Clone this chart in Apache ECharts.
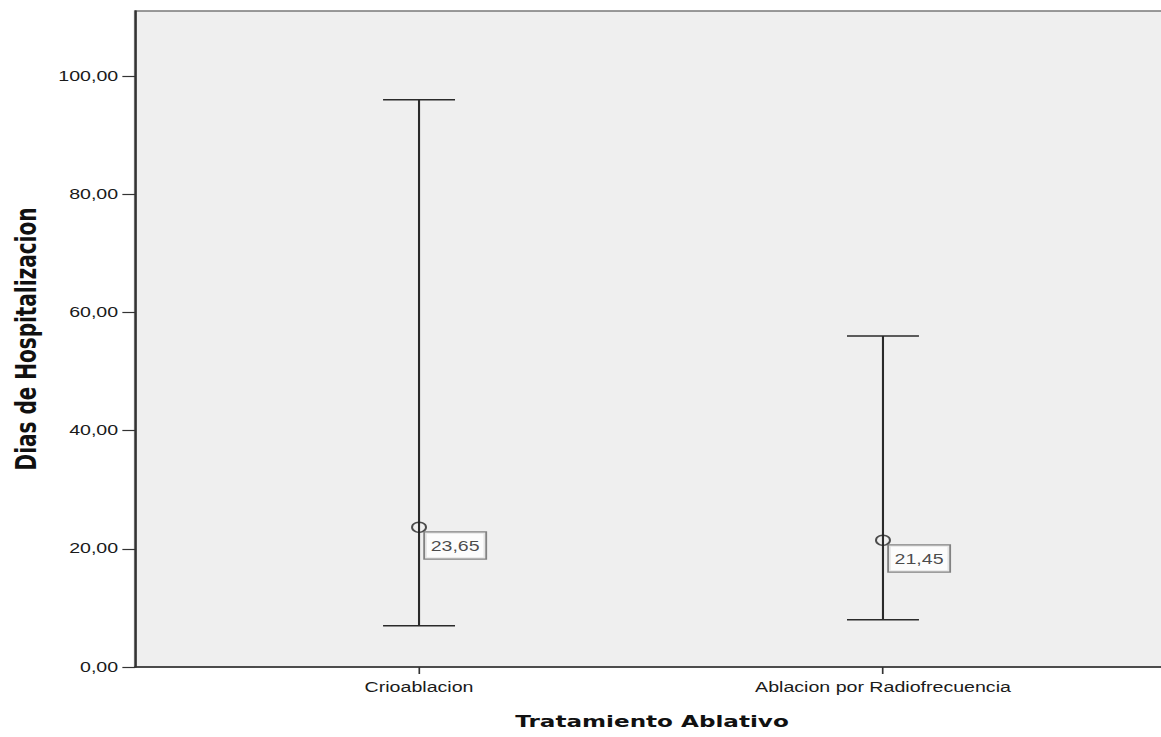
<!DOCTYPE html>
<html>
<head>
<meta charset="utf-8">
<script src="https://cdn.jsdelivr.net/npm/echarts@6/dist/echarts.min.js"></script>
<style>
  html, body { margin: 0; padding: 0; background: #ffffff; overflow: hidden; }
  #wrap { width: 1161px; height: 737px; overflow: hidden; position: relative; }
  #chart { width: 845px; height: 737px; transform: scaleX(1.4); transform-origin: 0 0; }
</style>
</head>
<body>
<div id="wrap"><div id="chart"></div></div>
<script>
// ---- data ----
const categories = ['Crioablacion', 'Ablacion por Radiofrecuencia'];
const catPositions = [1, 2];
const means = [23.65, 21.45];
const lowers = [7, 8];
const uppers = [96, 56];
const yTicks = [0, 20, 40, 60, 80, 100];
const xTitle = 'Tratamiento Ablativo';
const yTitle = 'Dias de Hospitalizacion';

const fmt = v => v.toFixed(2).replace('.', ',');

const barData = catPositions.map((x, i) => [x, lowers[i], uppers[i]]);
const meanData = catPositions.map((x, i) => [x, means[i]]);

const chart = echarts.init(document.getElementById('chart'), null, { renderer: 'svg' });
const axisColor = '#333333';
const xMin = 0.3877, xMax = 2.6165;

chart.setOption({
  animation: false,
  grid: {
    left: 96.4, top: 11, bottom: 70, right: 10,
    show: true, backgroundColor: '#efefef',
    borderColor: '#7a7a7a', borderWidth: 1.5
  },
  xAxis: {
    type: 'value',
    min: xMin, max: xMax,
    name: xTitle,
    nameLocation: 'middle',
    nameGap: 46,
    nameTextStyle: { fontFamily: 'DejaVu Sans', fontWeight: 'bold', fontSize: 16.5, color: '#111' },
    axisLine: { show: true, onZero: false, lineStyle: { color: axisColor, width: 1.5 } },
    axisTick: { show: true, length: 7, customValues: catPositions, lineStyle: { color: axisColor, width: 1.2 } },
    axisLabel: {
      customValues: catPositions,
      margin: 13,
      fontFamily: 'Liberation Sans', fontSize: 14, color: '#1a1a1a',
      formatter: v => categories[catPositions.indexOf(Math.round(v))] || ''
    },
    splitLine: { show: false }
  },
  yAxis: {
    type: 'value',
    min: 0, max: 111,
    name: yTitle,
    nameLocation: 'middle',
    nameGap: 68,
    nameTextStyle: { fontFamily: 'DejaVu Sans', fontWeight: 'bold', fontSize: 20, color: '#111' },
    axisLine: { show: true, onZero: false, lineStyle: { color: axisColor, width: 1.5 } },
    axisTick: { show: true, length: 9, customValues: yTicks, lineStyle: { color: axisColor, width: 1.2 } },
    axisLabel: {
      customValues: yTicks,
      margin: 12,
      fontFamily: 'Liberation Sans', fontSize: 14, color: '#1a1a1a',
      formatter: v => fmt(v)
    },
    splitLine: { show: false }
  },
  series: [
    {
      type: 'custom',
      data: barData,
      encode: { x: 0, y: [1, 2] },
      renderItem: function (params, api) {
        const x = api.value(0);
        const lo = api.coord([x, api.value(1)]);
        const hi = api.coord([x, api.value(2)]);
        const hw = 25.7;
        const style = { stroke: '#2a2a2a', lineWidth: 1.5 };
        return {
          type: 'group',
          children: [
            { type: 'line', shape: { x1: lo[0], y1: lo[1], x2: hi[0], y2: hi[1] }, style: style },
            { type: 'line', shape: { x1: hi[0] - hw, y1: hi[1], x2: hi[0] + hw, y2: hi[1] }, style: style },
            { type: 'line', shape: { x1: lo[0] - hw, y1: lo[1], x2: lo[0] + hw, y2: lo[1] }, style: style }
          ]
        };
      },
      z: 2
    },
    {
      type: 'scatter',
      data: meanData,
      symbol: 'circle',
      symbolSize: 10,
      itemStyle: { color: 'rgba(0,0,0,0)', borderColor: '#222', borderWidth: 1.4 },
      label: {
        show: true,
        position: [10, 11],
        formatter: p => fmt(p.value[1]),
        fontFamily: 'Liberation Sans', fontSize: 14, color: '#1a1a1a',
        backgroundColor: '#ffffff',
        borderColor: '#666', borderWidth: 1.3,
        padding: [5, 4, 4, 4],
        lineHeight: 17
      },
      z: 3
    }
  ]
});
</script>
</body>
</html>
